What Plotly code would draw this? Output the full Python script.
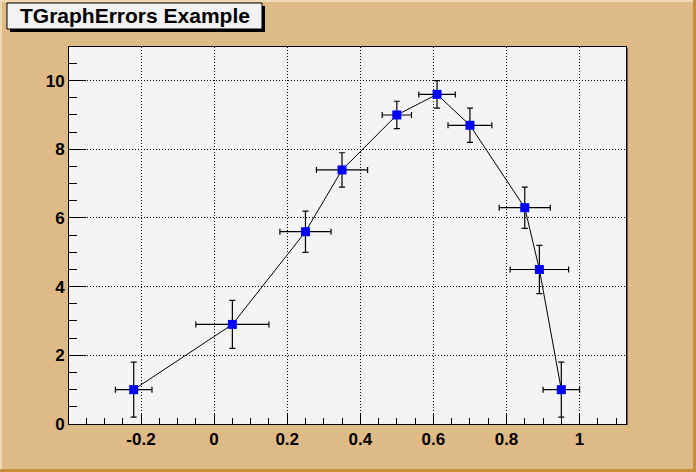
import plotly.graph_objects as go

x = [-0.22, 0.05, 0.25, 0.35, 0.5, 0.61, 0.7, 0.85, 0.89, 0.95]
y = [1, 2.9, 5.6, 7.4, 9, 9.6, 8.7, 6.3, 4.5, 1]
ex = [0.05, 0.1, 0.07, 0.07, 0.04, 0.05, 0.06, 0.07, 0.08, 0.05]
ey = [0.8, 0.7, 0.6, 0.5, 0.4, 0.4, 0.5, 0.6, 0.7, 0.8]
x_tick_vals = [-0.2, 0, 0.2, 0.4, 0.6, 0.8, 1.0]
x_tick_text = ["-0.2", "0", "0.2", "0.4", "0.6", "0.8", "1"]
y_tick_vals = [0, 2, 4, 6, 8, 10]
y_tick_text = ["0", "2", "4", "6", "8", "10"]
title_text = "TGraphErrors Example"

W, H = 696, 472
L, R, T, B = 69, 626, 47, 424

def px(p):
    return (p - L) / (R - L)

def py(p):
    return (B - p) / (B - T)

fig = go.Figure()
fig.add_trace(go.Scatter(
    x=x, y=y, mode="lines+markers",
    line=dict(color="black", width=1),
    marker=dict(symbol="square", size=9, color="#0000FF"),
    error_x=dict(type="data", array=ex, color="black", thickness=1.2, width=3),
    error_y=dict(type="data", array=ey, color="black", thickness=1.2, width=3),
    showlegend=False,
))

font = dict(family="Liberation Sans, Arial, sans-serif", size=17, color="black", weight="bold")

fig.update_layout(
    width=W, height=H,
    margin=dict(l=L, r=W - R, t=T, b=H - B, pad=0, autoexpand=False),
    paper_bgcolor="#DEBA87",
    plot_bgcolor="#F4F4F4",
    xaxis=dict(
        range=[-0.397, 1.127], tickmode="array", tickvals=x_tick_vals, ticktext=x_tick_text,
        tickangle=0,
        ticks="inside", ticklen=11, tickcolor="black", tickwidth=1,
        minor=dict(ticks="inside", ticklen=6, dtick=0.05, tick0=0, tickcolor="black", showgrid=False),
        showgrid=True, gridcolor="black", griddash="1px,2px", gridwidth=1,
        showline=True, linecolor="black", linewidth=1, mirror=True,
        zeroline=False, tickfont=font,
    ),
    yaxis=dict(
        range=[0, 10.98], tickmode="array", tickvals=y_tick_vals, ticktext=y_tick_text,
        ticks="inside", ticklen=17, tickcolor="black", tickwidth=1,
        minor=dict(ticks="inside", ticklen=8, dtick=0.5, tick0=0, tickcolor="black", showgrid=False),
        showgrid=True, gridcolor="black", griddash="1px,2px", gridwidth=1,
        showline=True, linecolor="black", linewidth=1, mirror=True,
        zeroline=False, tickfont=font,
    ),
)

shapes = []
# canvas bevel border
shapes.append(dict(type="rect", xref="paper", yref="paper", x0=px(0), x1=px(2), y0=py(H), y1=py(0),
                   fillcolor="#F0DAB4", line=dict(width=0)))
shapes.append(dict(type="rect", xref="paper", yref="paper", x0=px(0), x1=px(W), y0=py(2), y1=py(0),
                   fillcolor="#F0DAB4", line=dict(width=0)))
shapes.append(dict(type="rect", xref="paper", yref="paper", x0=px(W - 3), x1=px(W), y0=py(H), y1=py(0),
                   fillcolor="#C48E3C", line=dict(width=0)))
shapes.append(dict(type="rect", xref="paper", yref="paper", x0=px(0), x1=px(W), y0=py(H), y1=py(H - 3),
                   fillcolor="#C48E3C", line=dict(width=0)))
# frame shadow
shapes.append(dict(type="line", xref="paper", yref="paper", x0=px(R + 1), x1=px(R + 1), y0=py(B + 1), y1=py(T + 1),
                   line=dict(color="black", width=1)))
# title box shadow + box
shapes.append(dict(type="rect", xref="paper", yref="paper", x0=px(10), x1=px(265), y0=py(32), y1=py(6),
                   fillcolor="black", line=dict(width=0)))
shapes.append(dict(type="rect", xref="paper", yref="paper", x0=px(7), x1=px(262), y0=py(29), y1=py(3),
                   fillcolor="#F2F2F2", line=dict(color="black", width=1)))
fig.update_layout(shapes=shapes)

fig.add_annotation(
    text=title_text, xref="paper", yref="paper", x=px(134.5), y=py(16),
    xanchor="center", yanchor="middle", showarrow=False,
    font=dict(family="Liberation Sans, Arial, sans-serif", size=21, color="black", weight="bold"),
)

fig.write_html(
    "out.html",
    config={"displayModeBar": False},
    post_script="document.body.style.margin='0';document.body.style.padding='0';",
)
